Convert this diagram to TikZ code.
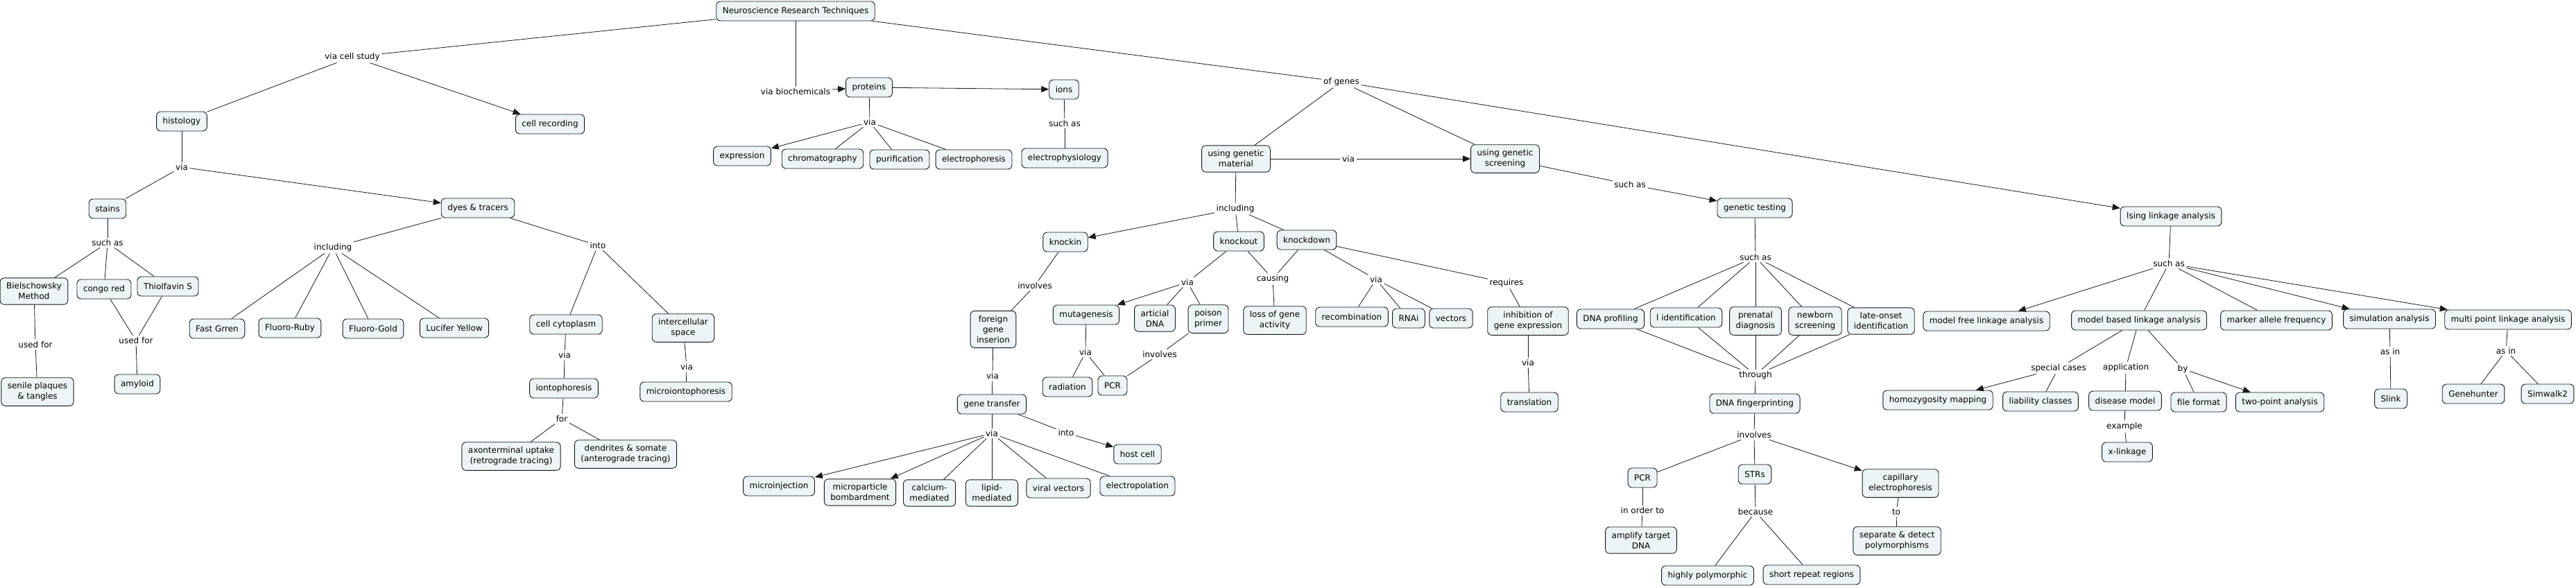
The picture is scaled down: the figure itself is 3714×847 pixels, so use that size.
\documentclass[tikz,border=0pt]{standalone}
\usepackage{fontspec}
\setmainfont{DejaVu Sans}
\usetikzlibrary{arrows.meta}
\definecolor{cfill}{RGB}{237,244,246}
\newcommand\mapfont{\fontsize{12}{15}\selectfont}
\begin{document}
\begin{tikzpicture}[x=1pt,y=-1pt,
 concept/.style={draw=black!90, fill=cfill, rounded corners=6pt, inner xsep=9pt, inner ysep=7pt, minimum height=28pt, align=center, font=\mapfont, line width=0.9pt},
 lnk/.style={inner sep=2.5pt, font=\mapfont, align=center},
 ln/.style={line width=0.8pt, black!90},
 arr/.style={ln, -{Triangle[length=11pt,width=9pt]}}]
\useasboundingbox (0,0) rectangle (3714,847);
\fill[white] (0,0) rectangle (3714,847);
% concepts
\node[concept] (root) at (1147,16) {Neuroscience Research Techniques};
\node[concept] (hist) at (262,175) {histology};
\node[concept] (cellrec) at (793,179) {cell recording};
\node[concept] (stains) at (155,301) {stains};
\node[concept] (dyes) at (689,300) {dyes \& tracers};
\node[concept] (biel) at (49,420) {Bielschowsky\\Method};
\node[concept] (congo) at (150,417) {congo red};
\node[concept] (thio) at (242,413) {Thiolfavin S};
\node[concept] (senile) at (54,565) {senile plaques\\\& tangles};
\node[concept] (amyloid) at (198,554) {amyloid};
\node[concept] (fastg) at (313,474) {Fast Grren};
\node[concept] (fruby) at (418,473) {Fluoro-Ruby};
\node[concept] (fgold) at (538,474) {Fluoro-Gold};
\node[concept] (lucifer) at (655,473) {Lucifer Yellow};
\node[concept] (cyto) at (816,468) {cell cytoplasm};
\node[concept] (inter) at (985,473) {intercellular\\space};
\node[concept] (ionto) at (813,560) {iontophoresis};
\node[concept] (micion) at (989,565) {microiontophoresis};
\node[concept] (axon) at (737,658) {axonterminal uptake\\(retrograde tracing)};
\node[concept] (dend) at (902,655) {dendrites \& somate\\(anterograde tracing)};
\node[concept] (proteins) at (1253,126) {proteins};
\node[concept] (ions) at (1534,129) {ions};
\node[concept] (expr) at (1070,225) {expression};
\node[concept] (chrom) at (1186,229) {chromatography};
\node[concept] (purif) at (1297,230) {purification};
\node[concept] (ephor) at (1404,230) {electrophoresis};
\node[concept] (ephys) at (1535,228) {electrophysiology};
\node[concept] (ugm) at (1782,229) {using genetic\\material};
\node[concept] (ugs) at (2170,229) {using genetic\\screening};
\node[concept] (gtest) at (2530,300) {genetic testing};
\node[concept] (ising) at (3130,312) {lsing linkage analysis};
\node[concept] (knockin) at (1536,349) {knockin};
\node[concept] (knockout) at (1786,348) {knockout};
\node[concept] (knockdown) at (1884,346) {knockdown};
\node[concept] (foreign) at (1432,475) {foreign\\gene\\inserion};
\node[concept] (mutag) at (1566,454) {mutagenesis};
\node[concept] (artic) at (1665,459) {articial\\DNA};
\node[concept] (poison) at (1742,460) {poison\\primer};
\node[concept] (loss) at (1838,462) {loss of gene\\activity};
\node[concept] (recomb) at (1949,457) {recombination};
\node[concept] (rnai) at (2031,459) {RNAi};
\node[concept] (vectors) at (2092,459) {vectors};
\node[concept] (inhib) at (2203,463) {inhibition of\\gene expression};
\node[concept] (transl) at (2205,580) {translation};
\node[concept] (radiation) at (1539,558) {radiation};
\node[concept] (pcrA) at (1604,556) {PCR};
\node[concept] (gtrans) at (1430,583) {gene transfer};
\node[concept] (host) at (1640,655) {host cell};
\node[concept] (microinj) at (1123,701) {microinjection};
\node[concept] (micropart) at (1240,710) {microparticle\\bombardment};
\node[concept] (calcium) at (1340,711) {calcium-\\mediated};
\node[concept] (lipid) at (1430,711) {lipid-\\mediated};
\node[concept] (viral) at (1526,704) {viral vectors};
\node[concept] (electrop) at (1640,701) {electropolation};
\node[concept] (dnaprof) at (2322,460) {DNA profiling};
\node[concept] (lident) at (2431,458) {l identification};
\node[concept] (prenatal) at (2531,463) {prenatal\\diagnosis};
\node[concept] (newborn) at (2617,463) {newborn\\screening};
\node[concept] (late) at (2712,463) {late-onset\\identification};
\node[concept] (dnafp) at (2530,582) {DNA fingerprinting};
\node[concept] (pcrB) at (2368,689) {PCR};
\node[concept] (strs) at (2530,684) {STRs};
\node[concept] (capil) at (2740,697) {capillary\\electrophoresis};
\node[concept] (amplify) at (2366,779) {amplify target\\DNA};
\node[concept] (highly) at (2462,830) {highly polymorphic};
\node[concept] (shortr) at (2612,829) {short repeat regions};
\node[concept] (separate) at (2735,780) {separate \& detect\\polymorphisms};
\node[concept] (mfree) at (2864,463) {model free linkage analysis};
\node[concept] (mbased) at (3084,462) {model based linkage analysis};
\node[concept] (marker) at (3282,462) {marker allele frequency};
\node[concept] (simul) at (3445,460) {simulation analysis};
\node[concept] (multi) at (3616,461) {multi point linkage analysis};
\node[concept] (homoz) at (2794,577) {homozygosity mapping};
\node[concept] (liab) at (2942,579) {liability classes};
\node[concept] (disease) at (3064,578) {disease model};
\node[concept] (xlink) at (3067,652) {x-linkage};
\node[concept] (filef) at (3170,580) {file format};
\node[concept] (twopt) at (3287,580) {two-point analysis};
\node[concept] (slink) at (3447,575) {Slink};
\node[concept] (geneh) at (3566,568) {Genehunter};
\node[concept] (simw) at (3673,568) {Simwalk2};
% linking phrases
\node[lnk] (lcell) at (508,82) {via cell study};
\node[lnk] (lbio) at (1147,132) {via biochemicals};
\node[lnk] (lgenes) at (1934,118) {of genes};
\node[lnk] (lviaH) at (262,241) {via};
\node[lnk] (lsuchS) at (155,350) {such as};
\node[lnk] (lusedB) at (51,497) {used for};
\node[lnk] (lusedC) at (196,491) {used for};
\node[lnk] (lincl) at (480,357) {including};
\node[lnk] (linto) at (862,354) {into};
\node[lnk] (lviaC) at (814,512) {via};
\node[lnk] (lviaI) at (990,529) {via};
\node[lnk] (lfor) at (810,604) {for};
\node[lnk] (lviaP) at (1254,176) {via};
\node[lnk] (lsuchI) at (1535,178) {such as};
\node[lnk] (lviaG) at (1944,229) {via};
\node[lnk] (linclG) at (1781,301) {including};
\node[lnk] (linvK) at (1492,412) {involves};
\node[lnk] (lviaKO) at (1712,407) {via};
\node[lnk] (lcaus) at (1835,402) {causing};
\node[lnk] (lviaKD) at (1984,403) {via};
\node[lnk] (lreq) at (2172,408) {requires};
\node[lnk] (lviaF) at (1431,542) {via};
\node[lnk] (lviaM) at (1565,508) {via};
\node[lnk] (linvP) at (1672,511) {involves};
\node[lnk] (lviaGT) at (1430,625) {via};
\node[lnk] (lintoGT) at (1537,624) {into};
\node[lnk] (lviaIn) at (2203,523) {via};
\node[lnk] (lsuchGS) at (2350,266) {such as};
\node[lnk] (lsuchGT) at (2531,371) {such as};
\node[lnk] (lthrough) at (2531,541) {through};
\node[lnk] (linvDF) at (2529,627) {involves};
\node[lnk] (lorder) at (2368,736) {in order to};
\node[lnk] (lbecause) at (2531,738) {because};
\node[lnk] (lto) at (2734,738) {to};
\node[lnk] (lsuchL) at (3127,380) {such as};
\node[lnk] (lspecial) at (2968,531) {special cases};
\node[lnk] (lapp) at (3065,530) {application};
\node[lnk] (lexample) at (3063,615) {example};
\node[lnk] (lby) at (3147,532) {by};
\node[lnk] (lasS) at (3446,507) {as in};
\node[lnk] (lasM) at (3613,506) {as in};
% plain connectors
\foreach \a/\b in {root/lcell, lcell/hist, root/lbio, root/lgenes, lgenes/ugm, lgenes/ugs,
 hist/lviaH, lviaH/stains, stains/lsuchS, lsuchS/biel, lsuchS/congo, lsuchS/thio,
 biel/lusedB, lusedB/senile, congo/lusedC, thio/lusedC, lusedC/amyloid,
 dyes/lincl, lincl/fastg, lincl/fruby, lincl/fgold, lincl/lucifer,
 dyes/linto, linto/cyto, linto/inter, cyto/lviaC, lviaC/ionto, inter/lviaI, lviaI/micion,
 ionto/lfor, lfor/axon, lfor/dend,
 proteins/lviaP, lviaP/chrom, lviaP/purif, lviaP/ephor, ions/lsuchI, lsuchI/ephys,
 ugm/lviaG, ugm/linclG, linclG/knockout, linclG/knockdown,
 knockin/linvK, linvK/foreign, foreign/lviaF, lviaF/gtrans,
 gtrans/lviaGT, lviaGT/calcium, lviaGT/lipid, lviaGT/viral, lviaGT/electrop, gtrans/lintoGT,
 knockout/lviaKO, lviaKO/artic, lviaKO/poison, knockout/lcaus, knockdown/lcaus, lcaus/loss,
 mutag/lviaM, lviaM/radiation, lviaM/pcrA, poison/linvP, linvP/pcrA,
 knockdown/lviaKD, lviaKD/recomb, lviaKD/rnai, lviaKD/vectors, knockdown/lreq, lreq/inhib,
 inhib/lviaIn, lviaIn/transl, ugs/lsuchGS,
 gtest/lsuchGT, lsuchGT/dnaprof, lsuchGT/lident, lsuchGT/prenatal, lsuchGT/newborn, lsuchGT/late,
 dnaprof/lthrough, lident/lthrough, prenatal/lthrough, newborn/lthrough, late/lthrough, lthrough/dnafp,
 dnafp/linvDF, linvDF/pcrB, linvDF/strs, pcrB/lorder, lorder/amplify,
 strs/lbecause, lbecause/highly, lbecause/shortr, capil/lto, lto/separate,
 ising/lsuchL, lsuchL/mbased, lsuchL/marker, mbased/lspecial, lspecial/liab,
 mbased/lapp, lapp/disease, disease/lexample, lexample/xlink, mbased/lby, lby/filef,
 simul/lasS, lasS/slink, multi/lasM, lasM/geneh, lasM/simw}
 \draw[ln] (\a) -- (\b);
% arrows
\foreach \a/\b in {lcell/cellrec, lbio/proteins, lgenes/ising, proteins/ions, lviaP/expr,
 lviaH/dyes, lviaG/ugs, linclG/knockin, lviaGT/microinj, lviaGT/micropart, lintoGT/host,
 lviaKO/mutag, lsuchGS/gtest, linvDF/capil, lsuchL/mfree, lsuchL/simul, lsuchL/multi,
 lspecial/homoz, lby/twopt}
 \draw[arr] (\a) -- (\b);
\end{tikzpicture}
\end{document}
